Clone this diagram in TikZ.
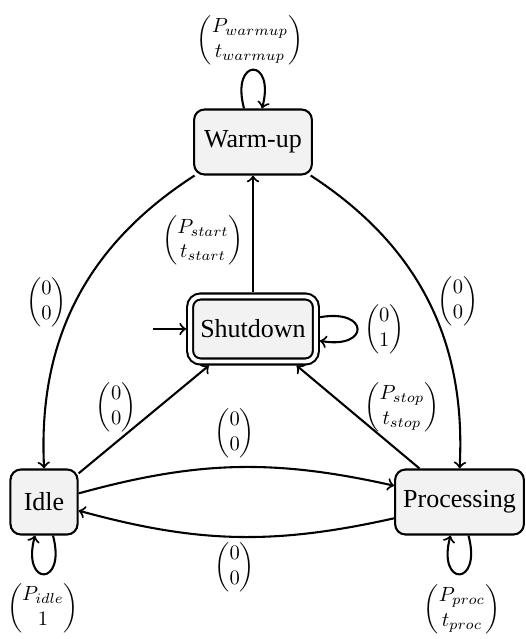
\documentclass[tikz,border=0pt]{standalone}
\usepackage{amsmath}
\usepackage{graphicx}
\usepackage[no-math]{fontspec}
\setmainfont{Liberation Serif}
\newcommand{\pvec}[2]{\scalebox{0.79}{$\begin{pmatrix}#1\\#2\end{pmatrix}$}}
\begin{document}
\begin{tikzpicture}[x=0.3846pt,y=0.3846pt,
  statebox/.style={draw, thick, rounded corners=4pt, fill=black!5,
    minimum width=25.8pt, minimum height=25pt, inner xsep=3.9pt},
  edgeline/.style={->, thick},
  lab/.style={anchor=center, inner sep=0pt},
  vloop/.style={distance=20.5pt}]
\useasboundingbox (0,0) rectangle (525,-639);
\node[statebox] (W) at (253,-142) {Warm-up};
\node[statebox, double, double distance=1.5pt, outer sep=1.55pt] (S) at (253,-329) {Shutdown};
\node[statebox] (I) at (44,-502) {Idle};
\node[statebox, inner xsep=3.1pt] (P) at (459.5,-502) {Processing};
\coordinate (init) at (153,-329);

\draw[edgeline] (init) -- (S);
\path (W) edge[edgeline, loop above, vloop] node[lab, shift={(-3,30)}] {\pvec{P_{warmup}}{t_{warmup}}} (W);
\path (S) edge[edgeline, out=10, in=-10, loop, distance=19.5pt] node[lab, shift={(27,0)}] {\pvec{0}{1}} (S);
\path (I) edge[edgeline, loop below, vloop] node[lab, shift={(-1,-34)}] {\pvec{P_{idle}}{1}} (I);
\path (P) edge[edgeline, loop below, vloop] node[lab, shift={(2.5,-35)}] {\pvec{P_{proc}}{t_{proc}}} (P);
\path (S) edge[edgeline] node[lab, shift={(-50,-6.5)}] {\pvec{P_{start}}{t_{start}}} (W);
\path (W) edge[edgeline, bend right=30] node[lab, shift={(-30,-2)}] {\pvec{0}{0}} (I);
\path (W) edge[edgeline, bend left=30] node[lab, shift={(30,-1)}] {\pvec{0}{0}} (P);
\path (I) edge[edgeline, bend left=14] node[lab, shift={(-1,34)}] {\pvec{0}{0}} (P);
\path (P) edge[edgeline, bend left=14] node[lab, shift={(-1,-30)}] {\pvec{0}{0}} (I);
\path (I) edge[edgeline] node[lab, shift={(-27.5,12.5)}] {\pvec{0}{0}} (S);
\path (P) edge[edgeline] node[lab, shift={(44,10)}] {\pvec{P_{stop}}{t_{stop}}} (S);
\end{tikzpicture}
\end{document}
